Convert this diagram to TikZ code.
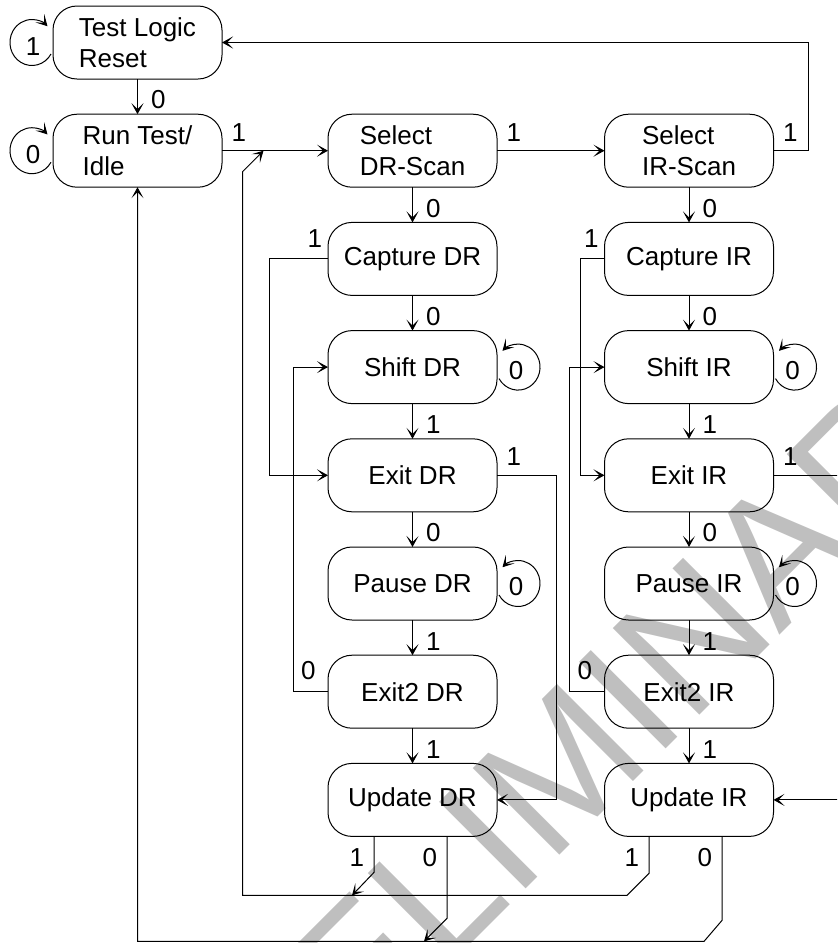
\documentclass[tikz,border=0pt]{standalone}
\usepackage{fontspec}
\setmainfont{Liberation Sans}
\usetikzlibrary{arrows.meta,positioning,calc,backgrounds}

\begin{document}
\begin{tikzpicture}[
    x=0.5pt, y=0.5pt,
    font=\fontsize{13pt}{15.5pt}\selectfont,
    >={Stealth[length=5.5pt,width=6pt,inset=3pt]},
    line width=0.5pt,
    state/.style={draw, rounded corners=12pt, align=left, minimum width=84.5pt, minimum height=36.5pt, inner sep=0pt, outer sep=0pt},
    lbl/.style={inner sep=0pt},
    flow/.style={->},
    wmark/.style={text=gray!50, inner sep=0pt, font=\fontsize{89pt}{89pt}\selectfont}
]

\useasboundingbox (0,0) rectangle (837,-943);
\clip (0,0) rectangle (837,-943);

% ------------------------
% Top states
% ------------------------
\node[state] (tlr) at (137.5,-42.5) {Test Logic\\Reset};
\node[state, below=17.6pt of tlr] (rti) {Run Test/\\Idle};
\node[state, right=53pt of rti] (seldr) {Select\\DR-Scan};
\node[state, right=53.75pt of seldr] (selir) {Select\\IR-Scan};

% ------------------------
% DR column
% ------------------------
\node[state, below=17.6pt of seldr] (capdr) {Capture DR};
\node[state, below=17.6pt of capdr] (shdr) {Shift DR};
\node[state, below=17.6pt of shdr] (exdr) {Exit DR};
\node[state, below=17.6pt of exdr] (padr) {Pause DR};
\node[state, below=17.6pt of padr] (extdr) {Exit2 DR};
\node[state, below=17.6pt of extdr] (updr) {Update DR};

% ------------------------
% IR column
% ------------------------
\node[state, below=17.6pt of selir] (capir) {Capture IR};
\node[state, below=17.6pt of capir] (shir) {Shift IR};
\node[state, below=17.6pt of shir] (exir) {Exit IR};
\node[state, below=17.6pt of exir] (pair) {Pause IR};
\node[state, below=17.6pt of pair] (extir) {Exit2 IR};
\node[state, below=17.6pt of extir] (upir) {Update IR};

% ------------------------
% Top row transitions
% ------------------------
\draw[flow] ($(tlr.west)+(-2,-11.5)$) arc[start angle=-30, end angle=-315, x radius=22, y radius=23];
\node[lbl] (ltlr) at ($(tlr.west)+(-20,-4)$) {1};
\draw[flow] ($(rti.west)+(-2,-11.5)$) arc[start angle=-30, end angle=-315, x radius=22, y radius=23];
\node[lbl] (lrti) at ($(rti.west)+(-20,-4)$) {0};

\draw[flow] (tlr) -- (rti);
\node[lbl, above right=2.3pt and 6.5pt of rti.north] (ltr) {0};
\draw[flow] (rti) -- (seldr);
\node[lbl, above right=4.5pt and 4.5pt of rti.east] (lrs) {1};
\draw[flow] (seldr) -- (selir);
\node[lbl, above right=4.5pt and 4.5pt of seldr.east] (lss) {1};
\draw[flow] (selir.east) -- ++(35,0) |- (tlr.east);
\node[lbl, above right=4.5pt and 4.5pt of selir.east] (lst) {1};

% ------------------------
% DR column transitions
% ------------------------
\draw[flow] (seldr) -- (capdr);
\node[lbl, above right=2.3pt and 6.5pt of capdr.north] (lcdr) {0};
\draw[flow] (capdr) -- (shdr);
\node[lbl, above right=2.3pt and 6.5pt of shdr.north] (lsdr) {0};
\draw[flow] (shdr) -- (exdr);
\node[lbl, above right=2.3pt and 6.5pt of exdr.north] (ledr) {1};
\draw[flow] (exdr) -- (padr);
\node[lbl, above right=2.3pt and 6.5pt of padr.north] (lpdr) {0};
\draw[flow] (padr) -- (extdr);
\node[lbl, above right=2.3pt and 6.5pt of extdr.north] (lxdr) {1};
\draw[flow] (extdr) -- (updr);
\node[lbl, above right=2.3pt and 6.5pt of updr.north] (ludr) {1};

\draw[flow] ($(shdr.east)+(2,-11.5)$) arc[start angle=210, end angle=495, x radius=22, y radius=23];
\node[lbl] (lshdr) at ($(shdr.east)+(19,-3)$) {0};
\draw[flow] ($(padr.east)+(2,-11.5)$) arc[start angle=210, end angle=495, x radius=22, y radius=23];
\node[lbl] (lpadr) at ($(padr.east)+(19,-3)$) {0};

\draw[flow] (capdr.west) -- ++(-59,0) |- (exdr.west);
\node[lbl, above left=5.6pt and 2.7pt of capdr.west] (lcedr) {1};
\draw[flow] (extdr.west) -- ++(-35,0) |- (shdr.west);
\node[lbl, above left=5.8pt and 5.9pt of extdr.west] (lxsdr) {0};
\draw[flow] (exdr.east) -- ++(59,0) |- (updr.east);
\node[lbl, above right=4.5pt and 4.5pt of exdr.east] (leudr) {1};

% ------------------------
% IR column transitions
% ------------------------
\draw[flow] (selir) -- (capir);
\node[lbl, above right=2.3pt and 6.5pt of capir.north] (lcir) {0};
\draw[flow] (capir) -- (shir);
\node[lbl, above right=2.3pt and 6.5pt of shir.north] (lsir) {0};
\draw[flow] (shir) -- (exir);
\node[lbl, above right=2.3pt and 6.5pt of exir.north] (leir) {1};
\draw[flow] (exir) -- (pair);
\node[lbl, above right=2.3pt and 6.5pt of pair.north] (lpir) {0};
\draw[flow] (pair) -- (extir);
\node[lbl, above right=2.3pt and 6.5pt of extir.north] (lxir) {1};
\draw[flow] (extir) -- (upir);
\node[lbl, above right=2.3pt and 6.5pt of upir.north] (luir) {1};

\draw[flow] ($(shir.east)+(2,-11.5)$) arc[start angle=210, end angle=495, x radius=22, y radius=23];
\node[lbl] (lshir) at ($(shir.east)+(19,-3)$) {0};
\draw[flow] ($(pair.east)+(2,-11.5)$) arc[start angle=210, end angle=495, x radius=22, y radius=23];
\node[lbl] (lpair) at ($(pair.east)+(19,-3)$) {0};

\draw[flow] (capir.west) -- ++(-24,0) |- (exir.west);
\node[lbl, above left=5.6pt and 2.7pt of capir.west] (lceir) {1};
\draw[flow] (extir.west) -- ++(-35,0) |- (shir.west);
\node[lbl, above left=5.8pt and 5.9pt of extir.west] (lxsir) {0};
\draw[flow] (exir.east) -- ++(80,0) |- (upir.east);
\node[lbl, above right=4.5pt and 4.5pt of exir.east] (leuir) {1};

% ------------------------
% Return buses from Update states
% ------------------------
\coordinate (ud1) at ($(updr.south)+(-38.5,0)$);
\coordinate (ud0) at ($(updr.south)+(34.5,0)$);
\coordinate (ui1) at ($(upir.south)+(-40,0)$);
\coordinate (ui0) at ($(upir.south)+(33,0)$);
\coordinate (jrti) at ($(rti.east)+(41.5,0)$);

\draw[flow] (ui1) -- ++(0,-37) -- ++(-22,-22) -| ($(jrti)+(-21,-21)$) -- (jrti);
\draw[flow] (ud1) -- ++(0,-36) -- ++(-22,-23);
\draw[flow] (ui0) -- ++(0,-84) -- ++(-18,-21) -| (rti.south);
\draw[flow] (ud0) -- ++(0,-82) -- ++(-23,-23);

\node[lbl, below left=5.85pt and 4.75pt of ud1] (lud1) {1};
\node[lbl, below left=5.85pt and 4.75pt of ud0] (lud0) {0};
\node[lbl, below left=5.85pt and 4.75pt of ui1] (lui1) {1};
\node[lbl, below left=5.85pt and 4.75pt of ui0] (lui0) {0};

% ------------------------
% Watermark
% ------------------------
\begin{scope}[on background layer]
    \node[wmark, rotate=45, anchor=base] (wm) at (611,-804) {PRELIMINARY};
\end{scope}

\end{tikzpicture}
\end{document}
